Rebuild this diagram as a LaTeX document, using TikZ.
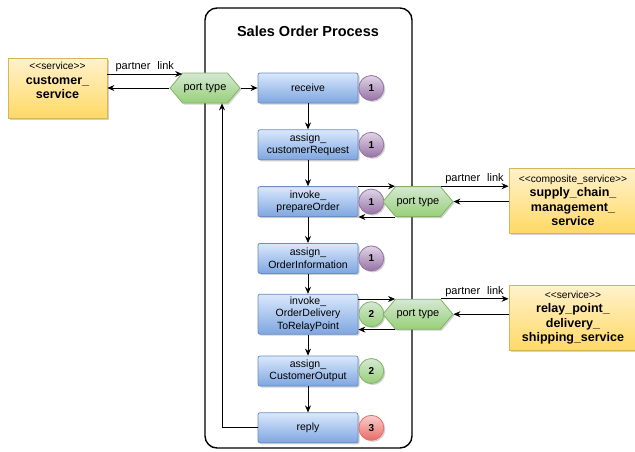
\documentclass[tikz,border=0pt]{standalone}
\usepackage{fontspec}
\setmainfont{Liberation Sans}
\usepackage{tikz}
\usetikzlibrary{positioning, shapes.symbols, shapes.geometric, arrows.meta, shadows}

\definecolor{acttop}{HTML}{DAE8FC}
\definecolor{actbot}{HTML}{7EA6E0}
\definecolor{actline}{HTML}{6C8EBF}
\definecolor{porttop}{HTML}{D5E8D4}
\definecolor{portbot}{HTML}{97D077}
\definecolor{portline}{HTML}{82B366}
\definecolor{svctop}{HTML}{FFF2CC}
\definecolor{svcbot}{HTML}{FFD966}
\definecolor{svcline}{HTML}{D6B656}
\definecolor{purpletop}{HTML}{E1D5E7}
\definecolor{purplebot}{HTML}{9673A6}
\definecolor{redtop}{HTML}{F8CECC}
\definecolor{redbot}{HTML}{EA6B66}

\newcommand{\stereo}[1]{{\fontsize{10.2}{13}\selectfont\mdseries\textless\kern0pt\textless#1\textgreater\kern0pt\textgreater}}

\begin{document}
\begin{tikzpicture}[
    x=1pt, y=-1pt,
    >={Stealth[length=7pt, width=6pt]},
    every path/.style={line width=0.8pt},
    softshadow/.style={drop shadow={shadow xshift=1.5pt, shadow yshift=-1.5pt, opacity=0.3, fill=black!60}},
    activity/.style={rectangle, draw=actline, rounded corners=2pt, top color=acttop, bottom color=actbot,
        minimum width=100pt, minimum height=30pt, inner sep=1pt, align=center,
        font=\fontsize{10.5}{12.5}\selectfont, softshadow},
    porttype/.style={signal, signal to=west and east, signal pointer angle=100, draw=portline,
        top color=porttop, bottom color=portbot, minimum width=66pt, minimum height=30pt, inner sep=1pt,
        font=\fontsize{11}{13}\selectfont, softshadow},
    service/.style={rectangle, draw=svcline, top color=svctop, bottom color=svcbot, align=center,
        minimum width=128pt, minimum height=65pt, inner sep=2pt,
        font=\fontsize{12.5}{14.5}\selectfont\bfseries, softshadow},
    badge/.style={circle, minimum size=25pt, inner sep=0pt, font=\fontsize{10}{12}\selectfont\bfseries, softshadow},
    purplebadge/.style={badge, draw=purplebot, top color=purpletop, bottom color=purplebot},
    greenbadge/.style={badge, draw=portline, top color=porttop, bottom color=portbot},
    redbadge/.style={badge, draw=redbot, top color=redtop, bottom color=redbot},
    link/.style={font=\fontsize{11}{13}\selectfont, inner sep=2pt}
]
\useasboundingbox (0,0) rectangle (635,451);

% process pool
\node[rectangle, draw, rounded corners=12pt, line width=1.4pt, minimum width=207pt, minimum height=440pt] (pool) at (308.5,228) {};
\node[font=\fontsize{14.5}{16}\selectfont\bfseries] (title) at (308,31) {Sales Order Process};

% activities
\node[activity] (receive) at (308,88) {receive};
\node[activity, below=26pt of receive] (request) {assign\_\\customerRequest};
\node[activity, below=26pt of request] (prepare) {invoke\_\\prepareOrder};
\node[activity, below=26pt of prepare] (information) {assign\_\\OrderInformation};
\node[activity, below=20pt of information, minimum height=40pt] (relay) {invoke\_\\OrderDelivery\\ToRelayPoint};
\node[activity, below=21pt of relay] (output) {assign\_\\CustomerOutput};
\node[activity, below=26pt of output] (reply) {reply};

% badges
\node[purplebadge, right=0pt of receive] (b_receive) {1};
\node[purplebadge, right=0pt of request] (b_request) {1};
\node[purplebadge, right=0pt of prepare] (b_prepare) {1};
\node[purplebadge, right=0pt of information] (b_information) {1};
\node[greenbadge, right=0pt of relay] (b_relay) {2};
\node[greenbadge, right=0pt of output] (b_output) {2};
\node[redbadge, right=0pt of reply] (b_reply) {3};

% services
\node[service, minimum width=99pt, minimum height=60pt] (customer) at (57.5,88) {\stereo{service}\\customer\_\\service\\\mbox{}};
\node[service] (supply) at (573,200.5) {\stereo{composite\_service}\\supply\_chain\_\\management\_\\service};
\node[service] (relaysvc) at (573,317.5) {\stereo{service}\\relay\_point\_\\delivery\_\\shipping\_service};

% port types
\node[porttype] (portL) at (205,88) {port type};
\node[porttype, right=24pt of prepare] (portP) {port type};
\node[porttype, right=24pt of relay] (portR) {port type};

% customer side
\draw[->] ([yshift=14pt]customer.east) -- node[above, link]{partner\hspace{7pt}link} ([yshift=14pt]customer.east -| portL.north west);
\draw[->] (portL.west) -- (customer.east);
\draw[->] (portL.east) -- (receive.west);
\draw[->] (reply.west) -| ([xshift=17pt]portL.south);

% flow
\draw[->] (receive) -- (request);
\draw[->] (request) -- (prepare);
\draw[->] (prepare) -- (information);
\draw[->] (information) -- (relay);
\draw[->] (relay) -- (output);
\draw[->] (output) -- (reply);

% supply chain partner
\draw[->] (prepare.north east) -- (prepare.north east -| portP.north west);
\draw[->] (portP.north east) -- node[above, link]{partner\hspace{7pt}link} (portP.north east -| supply.west);
\draw[->] (supply.west |- portP.east) -- (portP.east);
\draw[->] (portP.south west) -- (portP.south west -| prepare.east);

% relay point partner
\draw[->] (relay.east |- portR.north west) -- (portR.north west);
\draw[->] (portR.north east) -- node[above, link]{partner\hspace{7pt}link} (portR.north east -| relaysvc.west);
\draw[->] (relaysvc.west |- portR.east) -- (portR.east);
\draw[->] (portR.south west) -- (portR.south west -| relay.east);

\end{tikzpicture}
\end{document}
